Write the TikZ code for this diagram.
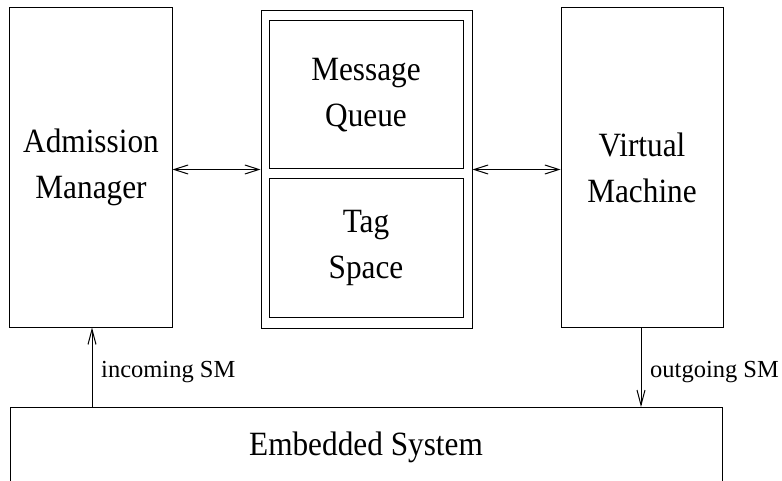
\documentclass[tikz,border=0pt]{standalone}
\usepackage{fontspec}
\setmainfont{Liberation Serif}
\newfontfamily\unitfont[FakeStretch=0.92]{Liberation Serif}
\usepackage{tikz}
\usetikzlibrary{arrows.meta}
\usetikzlibrary{positioning}

\tikzset{
  unit/.style={draw, line width=1bp, inner sep=0pt, align=center,
    font=\unitfont\fontsize{34bp}{46bp}\selectfont},
  flow/.style={line width=1bp, {Straight Barb[length=14bp,width=9bp]}-{Straight Barb[length=14bp,width=9bp]}},
  sig/.style={line width=1bp, -{Straight Barb[length=15bp,width=8bp]}},
  siglabel/.style={anchor=base west, inner sep=0pt, font=\fontsize{24.5bp}{28bp}\selectfont}
}

\begin{document}
\begin{tikzpicture}[x=1bp,y=-1bp]
        \useasboundingbox (0,0) rectangle (782,481);
        % the three upper units
        \node[unit, minimum width=162bp, minimum height=319bp] (adm) at (91,167.5) {Admission\\Manager};
        \node[unit, minimum width=211bp, minimum height=317bp] (mid) at (366.5,169.5) {};
        \node[unit, minimum width=194bp, minimum height=148bp] (msg) at (366,95) {Message\\Queue};
        \node[unit, minimum width=194bp, minimum height=138bp] (tag) at (366,248) {Tag\\Space};
        \node[unit, minimum width=162bp, minimum height=319bp] (vm) at (642,167.5) {Virtual\\Machine};
        % embedded system, open at the bottom
        \draw[line width=1bp] (10,481) -- (10,407) -- (722,407) -- (722,481);
        \node[inner sep=0pt, font=\unitfont\fontsize{34bp}{46bp}\selectfont] (emb) at (366,447) {Embedded System};
        \coordinate (in) at (92,407);
        \coordinate (out) at (641,407);
        % connections
        \draw[flow] (adm.east |- mid.west) -- (mid.west);
        \draw[flow] (mid.east) -- (mid.east -| vm.west);
        \draw[sig] (in) -- (in |- adm.south);
        \draw[sig] (out |- vm.south) -- (out);
        \node[siglabel] (inlbl) at (101,377) {incoming SM};
        \node[siglabel] (outlbl) at (650,377) {outgoing SM};
    \end{tikzpicture}
\end{document}
